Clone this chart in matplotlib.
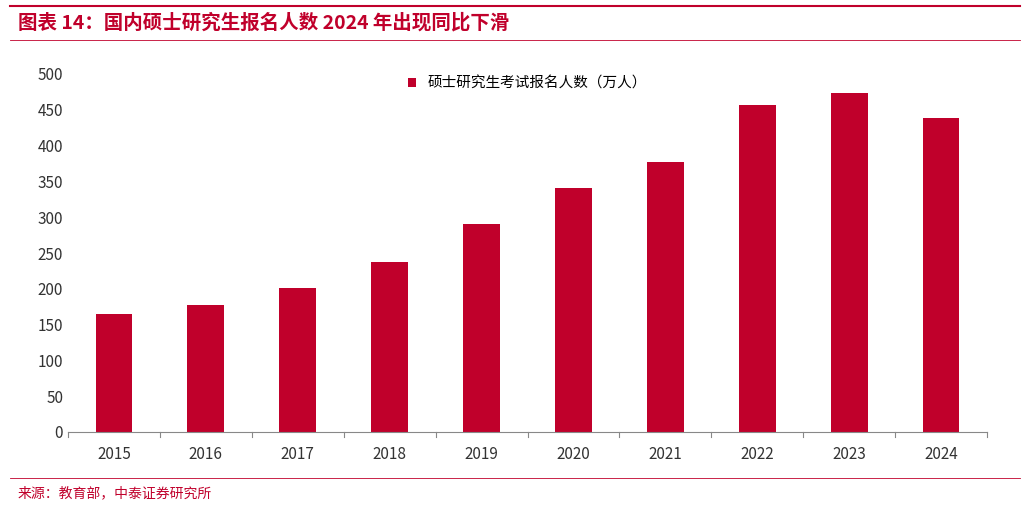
import matplotlib
matplotlib.use("Agg")
import matplotlib.pyplot as plt
from matplotlib.lines import Line2D

plt.rcParams['font.family'] = ['Noto Sans CJK SC', 'DejaVu Sans']

years = ['2015','2016','2017','2018','2019','2020','2021','2022','2023','2024']
values = [165, 177, 201, 238, 290, 341, 377, 457, 474, 438]
yticks = [0,50,100,150,200,250,300,350,400,450,500]

W, H = 1030, 507
fig = plt.figure(figsize=(W/100, H/100), dpi=100)
red = '#C0002B'

ax = fig.add_axes([68/W, 1-432/H, (987-68)/W, (432-74)/H])
ax.bar(range(len(years)), values, width=0.4, color=red, label='硕士研究生考试报名人数（万人）')
ax.set_xlim(-0.5, len(years)-0.5)
ax.set_ylim(0, 500)
ax.set_yticks(yticks)
ax.set_xticks(range(len(years)))
ax.set_xticklabels(years)
for s in ['top','right','left']:
    ax.spines[s].set_visible(False)
ax.spines['bottom'].set_color('#888888')
ax.tick_params(axis='y', length=0, labelsize=11, colors='#333333')
ax.tick_params(axis='x', length=0, labelsize=11, colors='#333333', pad=10)
for i in range(len(years)+1):
    ax.plot([i-0.5, i-0.5], [0, -7], color='#888888', lw=0.8, clip_on=False, transform=ax.transData)
ax.legend(loc='upper center', frameon=False, fontsize=10.5, handlelength=0.6, handleheight=0.6,
          bbox_to_anchor=(0.5, 1.03))

fig.add_artist(Line2D([10/W, 1020/W], [1-6/H, 1-6/H], color=red, lw=1.5))
fig.add_artist(Line2D([10/W, 1020/W], [1-40/H, 1-40/H], color=red, lw=0.6))
fig.add_artist(Line2D([10/W, 1020/W], [1-478/H, 1-478/H], color=red, lw=0.6))
fig.text(18/W, 1-23/H, '图表 14：国内硕士研究生报名人数 2024 年出现同比下滑', color=red,
         fontsize=14, fontweight='bold', style='italic', va='center')
fig.text(18/W, 1-493/H, '来源：教育部，中泰证券研究所', color=red, fontsize=10, va='center')

fig.savefig('out.png', dpi=100)
